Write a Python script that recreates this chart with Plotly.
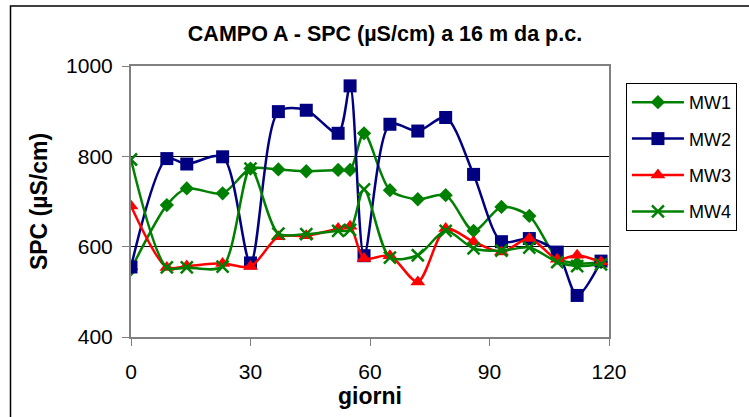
import plotly.graph_objects as go

days = [0, 9, 14, 23, 30, 37, 44, 52, 55, 58.5, 65, 72, 79, 86, 93, 100, 107, 112, 118]
mw1 = [550, 692, 729, 718, 773, 771, 767, 770, 770, 851, 725, 705, 714, 635, 688, 668, 575, 563, 566]
mw2 = [555, 795, 783, 799, 564, 899, 902, 851, 956, 580, 871, 856, 886, 760, 611, 618, 588, 492, 568]
mw3 = [690, 554, 557, 563, 556, 622, 624, 640, 645, 574, 580, 522, 640, 611, 588, 618, 572, 581, 566]
mw4 = [793, 554, 554, 556, 773, 629, 628, 635, 637, 727, 576, 581, 635, 596, 591, 598, 566, 557, 561]

x_ticks = [0, 30, 60, 90, 120]
y_ticks = [400, 600, 800, 1000]

FONT = "Liberation Sans, Arial, sans-serif"
GREEN = "#008000"
NAVY = "#000080"
RED = "#FF0000"

fig = go.Figure()
fig.add_trace(go.Scatter(x=days, y=mw1, name="MW1", legendgroup="g1", mode="lines+markers",
                         line=dict(color=GREEN, width=2.5, shape="spline", smoothing=0.8),
                         marker=dict(symbol="diamond", size=11, color=GREEN)))
fig.add_trace(go.Scatter(x=days, y=mw2, name="MW2", legendgroup="g2", mode="lines+markers",
                         line=dict(color=NAVY, width=2.5, shape="spline", smoothing=0.8),
                         marker=dict(symbol="square", size=13, color=NAVY)))
fig.add_trace(go.Scatter(x=days, y=mw3, name="MW3", legendgroup="g3", mode="lines+markers",
                         line=dict(color=RED, width=2.5, shape="spline", smoothing=0.8),
                         marker=dict(symbol="triangle-up", size=13, color=RED)))
fig.add_trace(go.Scatter(x=days, y=mw4, name="MW4", legendgroup="g4", mode="lines+markers",
                         line=dict(color=GREEN, width=2.5, shape="spline", smoothing=0.8),
                         marker=dict(symbol="x-thin", size=12, color=GREEN,
                                     line=dict(color=GREEN, width=2.5))))

W, H = 749, 417
L, R, T, B = 131, 138, 66, 80
pw, ph = W - L - R, H - T - B

def px_x(p):
    return (p - L) / pw

def px_y(p):
    return (H - B - p) / ph

fig.update_layout(
    width=W, height=H,
    margin=dict(l=L, r=R, t=T, b=B),
    paper_bgcolor="white", plot_bgcolor="white",
    font=dict(family=FONT, color="black"),
    title=dict(text="<b>CAMPO A - SPC (µS/cm) a 16 m da p.c.</b>",
               x=385 / W, xanchor="center", y=1 - 33 / H, yanchor="middle",
               font=dict(size=21.5, family=FONT)),
    xaxis=dict(range=[0, 120], tickvals=x_ticks, ticktext=[str(v) for v in x_ticks],
               showgrid=False, zeroline=False,
               showline=True, linecolor="#808080", linewidth=2, mirror=True,
               ticks="outside", ticklen=7, tickcolor="#808080", tickwidth=1,
               ticklabelstandoff=8,
               tickfont=dict(size=21),
               title=dict(text="<b>giorni</b>", font=dict(size=23), standoff=2)),
    yaxis=dict(range=[400, 1000], tickvals=y_ticks, ticktext=[str(v) for v in y_ticks],
               showgrid=True, gridcolor="black", gridwidth=1, zeroline=False,
               showline=True, linecolor="#808080", linewidth=2, mirror=True,
               ticks="outside", ticklen=7, tickcolor="#808080", tickwidth=1,
               ticklabelstandoff=5,
               tickfont=dict(size=21),
               title=dict(text="<b>SPC (µS/cm)</b>", font=dict(size=23), standoff=12)),
    legend=dict(x=px_x(628), y=px_y(83), xanchor="left", yanchor="top",
                bordercolor="black", borderwidth=1, bgcolor="white",
                font=dict(size=18), traceorder="grouped",
                itemwidth=52, tracegroupgap=10),
    showlegend=True,
    shapes=[dict(type="rect", xref="paper", yref="paper",
                 x0=px_x(10), x1=px_x(760), y0=px_y(430), y1=px_y(6),
                 line=dict(color="black", width=1.5), fillcolor="rgba(0,0,0,0)",
                 layer="below")],
)

fig.write_html("out.html")
